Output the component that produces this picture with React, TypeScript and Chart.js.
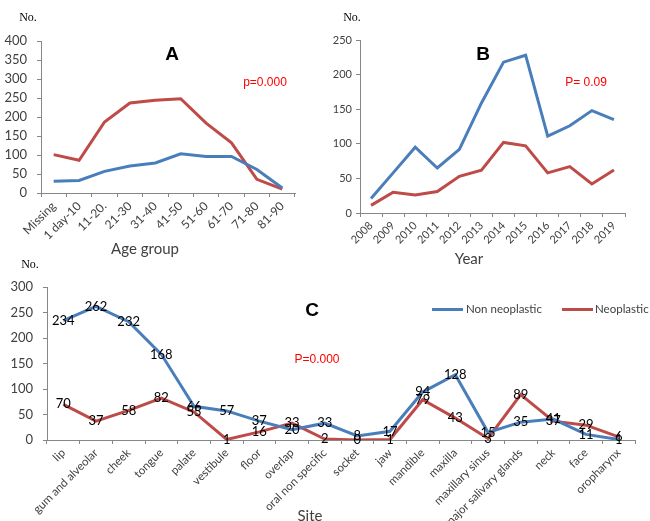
import React, { useEffect, useRef } from "react";
import { Chart, registerables } from "chart.js";
Chart.register(...registerables);

// ---------- Data ----------
const ageGroups = ["Missing", "1 day-10", "11-20.", "21-30", "31-40", "41-50", "51-60", "61-70", "71-80", "81-90"];
const ageNonNeoplastic = [31, 33, 57, 71, 79, 103, 96, 96, 62, 13];
const ageNeoplastic = [101, 86, 187, 237, 244, 248, 184, 132, 36, 10];

const years = ["2008", "2009", "2010", "2011", "2012", "2013", "2014", "2015", "2016", "2017", "2018", "2019"];
const yearNonNeoplastic = [21, 58, 95, 65, 92, 159, 218, 228, 111, 126, 148, 135];
const yearNeoplastic = [11, 30, 26, 31, 53, 62, 102, 97, 58, 67, 42, 62];

const sites = [
  "lip", "gum and alveolar", "cheek", "tongue", "palate", "vestibule", "floor", "overlap",
  "oral non specific", "socket", "jaw", "mandible", "maxilla", "maxillary sinus",
  "major salivary glands", "neck", "face", "oropharynx",
];
const siteNonNeoplastic = [234, 262, 232, 168, 66, 57, 37, 20, 33, 8, 17, 94, 128, 15, 35, 41, 11, 1];
const siteNeoplastic = [70, 37, 58, 82, 55, 1, 16, 33, 2, 0, 1, 79, 43, 3, 89, 37, 29, 6];

const yMaxAge = 400;
const yMaxYear = 250;
const yMaxSite = 300;

const BLUE = "#4A7EBB";
const RED = "#BE4B48";
const FONT = "Lato, 'Open Sans', sans-serif";

const valueLabels = {
  id: "valueLabels",
  afterDatasetsDraw(chart: any) {
    const ctx = chart.ctx;
    ctx.save();
    ctx.font = `13px ${FONT}`;
    ctx.fillStyle = "#000";
    ctx.textAlign = "center";
    ctx.textBaseline = "middle";
    chart.data.datasets.forEach((ds: any, i: number) => {
      const meta = chart.getDatasetMeta(i);
      meta.data.forEach((pt: any, j: number) => {
        ctx.fillText(String(ds.data[j]), pt.x, pt.y);
      });
    });
    ctx.restore();
  },
};

type Cfg = {
  labels: string[];
  blue: number[];
  red: number[];
  yMax: number;
  yWidth: number;
  xHeight: number;
  padTop: number;
  padRight: number;
  yFont: number;
  xFont: number;
  yPad: number;
  withLabels?: boolean;
};

function buildConfig(c: Cfg): any {
  return {
    type: "line",
    data: {
      labels: c.labels,
      datasets: [
        { label: "Non neoplastic", data: c.blue, borderColor: BLUE, backgroundColor: BLUE, borderWidth: 3, pointRadius: 0, tension: 0 },
        { label: "Neoplastic", data: c.red, borderColor: RED, backgroundColor: RED, borderWidth: 3, pointRadius: 0, tension: 0 },
      ],
    },
    options: {
      responsive: false,
      animation: false,
      devicePixelRatio: 1,
      layout: { padding: { top: c.padTop, right: c.padRight, left: 0, bottom: 0 } },
      plugins: { legend: { display: false }, tooltip: { enabled: false }, title: { display: false } },
      scales: {
        x: {
          offset: true,
          grid: { offset: true, drawOnChartArea: false, drawTicks: true, tickLength: 4, color: "#878787" },
          border: { display: true, color: "#878787", width: 1 },
          ticks: {
            autoSkip: false,
            minRotation: 45,
            maxRotation: 45,
            color: "#404040",
            font: { family: FONT, size: c.xFont },
            padding: 2,
          },
          afterFit: (s: any) => { s.height = c.xHeight; },
        },
        y: {
          min: 0,
          max: c.yMax,
          grid: { drawOnChartArea: false, drawTicks: true, tickLength: 4, color: "#878787" },
          border: { display: true, color: "#878787", width: 1 },
          ticks: { stepSize: 50, color: "#404040", font: { family: FONT, size: c.yFont }, padding: c.yPad },
          afterFit: (s: any) => { s.width = c.yWidth; },
        },
      },
    },
    plugins: c.withLabels ? [valueLabels] : [],
  };
}

function LineChart({ cfg, left, top, width, height }: { cfg: Cfg; left: number; top: number; width: number; height: number }) {
  const ref = useRef<HTMLCanvasElement | null>(null);
  useEffect(() => {
    if (!ref.current) return;
    const chart = new Chart(ref.current, buildConfig(cfg));
    return () => chart.destroy();
  }, []);
  return (
    <canvas
      ref={ref}
      width={width}
      height={height}
      style={{ position: "absolute", left, top, width, height }}
    />
  );
}

function Txt({ x, y, children, style }: { x: number; y: number; children: any; style?: any }) {
  return (
    <div
      style={{
        position: "absolute",
        left: x,
        top: y,
        transform: "translate(-50%, -50%)",
        whiteSpace: "nowrap",
        lineHeight: 1,
        ...style,
      }}
    >
      {children}
    </div>
  );
}

export default function App() {
  useEffect(() => {
    document.body.style.margin = "0";
  }, []);

  const noStyle = { fontFamily: "'Liberation Serif', 'DejaVu Serif', serif", fontSize: 12, color: "#000" };
  const panelStyle = { fontFamily: "'Liberation Sans', Arial, sans-serif", fontSize: 19, fontWeight: "bold", color: "#000" };
  const pStyle = { fontFamily: "'Liberation Sans', Arial, sans-serif", fontSize: 12, color: "#FF0000" };
  const axisTitle = { fontFamily: FONT, fontSize: 15, color: "#404040" };
  const legendText = { fontFamily: FONT, fontSize: 11.5, color: "#404040" };

  return (
    <div style={{ position: "relative", width: 650, height: 521, background: "#fff", overflow: "hidden" }}>
      <LineChart
        left={0}
        top={0}
        width={320}
        height={255}
        cfg={{ labels: ageGroups, blue: ageNonNeoplastic, red: ageNeoplastic, yMax: yMaxAge, yWidth: 41, xHeight: 62, padTop: 41, padRight: 25, yFont: 13, xFont: 12, yPad: 10 }}
      />
      <LineChart
        left={320}
        top={0}
        width={330}
        height={270}
        cfg={{ labels: years, blue: yearNonNeoplastic, red: yearNeoplastic, yMax: yMaxYear, yWidth: 40, xHeight: 57, padTop: 40, padRight: 25, yFont: 11, xFont: 11, yPad: 4 }}
      />
      <LineChart
        left={0}
        top={255}
        width={650}
        height={266}
        cfg={{ labels: sites, blue: siteNonNeoplastic, red: siteNeoplastic, yMax: yMaxSite, yWidth: 47, xHeight: 81, padTop: 32, padRight: 15, yFont: 13, xFont: 11.5, yPad: 10, withLabels: true }}
      />

      <Txt x={28} y={17} style={noStyle}>No.</Txt>
      <Txt x={172} y={53} style={panelStyle}>A</Txt>
      <Txt x={265} y={82} style={pStyle}>p=0.000</Txt>
      <Txt x={145} y={248} style={axisTitle}>Age group</Txt>

      <Txt x={352} y={17} style={noStyle}>No.</Txt>
      <Txt x={483} y={53} style={panelStyle}>B</Txt>
      <Txt x={586} y={82} style={pStyle}>P= 0.09</Txt>
      <Txt x={469} y={258} style={axisTitle}>Year</Txt>

      <Txt x={30} y={264} style={noStyle}>No.</Txt>
      <Txt x={312} y={309} style={panelStyle}>C</Txt>
      <Txt x={317} y={359} style={pStyle}>P=0.000</Txt>
      <Txt x={310} y={515} style={axisTitle}>Site</Txt>

      <div style={{ position: "absolute", left: 432, top: 308, width: 31, height: 3, background: BLUE }} />
      <div style={{ position: "absolute", left: 466, top: 309, transform: "translateY(-50%)", lineHeight: 1, whiteSpace: "nowrap", ...legendText }}>Non neoplastic</div>
      <div style={{ position: "absolute", left: 562, top: 308, width: 31, height: 3, background: RED }} />
      <div style={{ position: "absolute", left: 595, top: 309, transform: "translateY(-50%)", lineHeight: 1, whiteSpace: "nowrap", ...legendText }}>Neoplastic</div>
    </div>
  );
}
